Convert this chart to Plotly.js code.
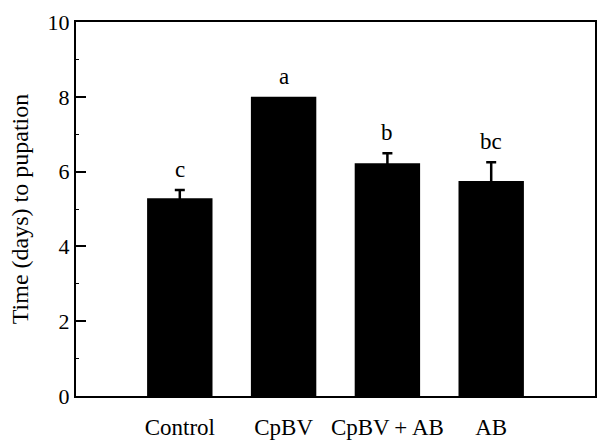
<!DOCTYPE html>
<html>
<head>
<meta charset="utf-8">
<script src="https://cdn.plot.ly/plotly-3.0.1.min.js"></script>
<style>html,body{margin:0;padding:0;background:#fff;}#chart{width:598px;height:442px;}</style>
</head>
<body>
<div id="chart"></div>
<script>
const categories = ["Control", "CpBV", "CpBV\u2009+\u2009AB", "AB"];
const positions = [1, 2, 3, 4];
const meanDays = [5.29, 8.0, 6.22, 5.75];
const errDays = [0.22, null, 0.27, 0.5];
const letters = ["c", "a", "b", "bc"];
const yTickVals = [0, 2, 4, 6, 8, 10];

const font = "Liberation Serif, Times New Roman, serif";

const barTrace = {
  type: "bar",
  x: positions,
  y: meanDays,
  width: 0.63,
  marker: {color: "#000", line: {width: 0}},
  hoverinfo: "skip"
};

const withErr = positions.map((p, i) => i).filter(i => errDays[i] !== null);
const errTrace = {
  type: "scatter",
  mode: "markers",
  x: withErr.map(i => positions[i]),
  y: withErr.map(i => meanDays[i]),
  marker: {size: 1, opacity: 0},
  error_y: {type: "data", array: withErr.map(i => errDays[i]), visible: true, color: "#000", thickness: 2.5, width: 5},
  hoverinfo: "skip"
};

const annotations = positions.map((p, i) => ({
  x: p, y: meanDays[i] + (errDays[i] || 0), xref: "x", yref: "y",
  text: letters[i], showarrow: false, yanchor: "bottom", yshift: 6,
  font: {family: font, size: 23, color: "#000"}
}));

const layout = {
  width: 598, height: 442,
  margin: {l: 76, r: 3, t: 22, b: 46},
  paper_bgcolor: "#fff", plot_bgcolor: "#fff",
  showlegend: false,
  font: {family: font, color: "#000", size: 22},
  xaxis: {
    range: [0, 5], tickvals: positions, ticktext: categories,
    showgrid: false, zeroline: false, showline: true, linecolor: "#000", linewidth: 2,
    mirror: true, ticks: "", ticklabelstandoff: 9,
    tickfont: {family: font, size: 23, color: "#000"}
  },
  yaxis: {
    range: [0, 10], tickvals: yTickVals,
    showgrid: false, zeroline: false, showline: true, linecolor: "#000", linewidth: 2,
    mirror: true, ticks: "inside", ticklen: 10, tickwidth: 2, tickcolor: "#000",
    minor: {dtick: 1, ticks: "inside", ticklen: 3, tickwidth: 1, tickcolor: "#000", showgrid: false},
    tickfont: {family: font, size: 22, color: "#000"},
    title: {text: "Time (days) to pupation", font: {family: font, size: 24, color: "#000"}, standoff: 12}
  },
  annotations: annotations
};

Plotly.newPlot("chart", [barTrace, errTrace], layout, {displayModeBar: false, staticPlot: true});
</script>
</body>
</html>
